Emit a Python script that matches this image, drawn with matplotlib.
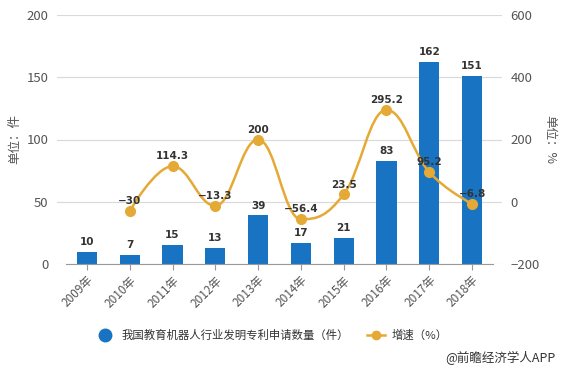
import numpy as np
import matplotlib
matplotlib.use("Agg")
import matplotlib.pyplot as plt
from matplotlib.path import Path
from matplotlib.patches import PathPatch
from matplotlib.lines import Line2D

plt.rcParams['font.family'] = ['Noto Sans CJK SC', 'DejaVu Sans']

years = ['2009年', '2010年', '2011年', '2012年', '2013年', '2014年', '2015年', '2016年', '2017年', '2018年']
counts = [10, 7, 15, 13, 39, 17, 21, 83, 162, 151]
growth_years = years[1:]
growth = [-30, 114.3, -13.3, 200, -56.4, 23.5, 295.2, 95.2, -6.8]
growth_labels = ['−30', '114.3', '−13.3', '200', '−56.4', '23.5', '295.2', '95.2', '−6.8']

bar_color = '#1874c3'
line_color = '#e5a935'

fig = plt.figure(figsize=(5.61, 3.69), dpi=100)
ax = fig.add_axes([57/561, 1-264/369, 445/561, 249/369])
ax2 = ax.twinx()

x = np.arange(len(years))
ax.bar(x, counts, width=0.47, color=bar_color, zorder=2)
for xi, v in zip(x, counts):
    ax.annotate(str(v), (xi, v), xytext=(0, 3.5), textcoords='offset points',
                ha='center', va='bottom', fontsize=7.5, fontweight='bold', color='#333333',
                family='DejaVu Sans')

ax.set_ylim(0, 200)
ax.set_yticks([0, 50, 100, 150, 200])
ax.set_xlim(-0.7, 9.7)
ax.grid(axis='y', color='#d9d9d9', linewidth=0.8, zorder=0)
ax.set_axisbelow(True)
for s in ['top', 'right', 'left']:
    ax.spines[s].set_visible(False)
ax.spines['bottom'].set_color('#999999')
ax.spines['bottom'].set_bounds(-0.5, 9.5)
ax.set_xticks(x)
ax.set_xticklabels(years, rotation=45, ha='right', rotation_mode='anchor', fontsize=8.5, color='#555555')
ax.tick_params(axis='x', length=4, color='#999999', pad=3)
ax.tick_params(axis='y', length=0, labelsize=9.5, labelcolor='#555555', pad=6)
ax.set_ylabel('单位：件', fontsize=9, color='#555555', labelpad=4)

# growth line on secondary axis: Highcharts-style spline through data points
gx = np.arange(1, len(years)).astype(float)
gy = np.array(growth, dtype=float)
n = len(gx)
sm = 1.5
den = sm + 1
lc = [(gx[i], gy[i]) for i in range(n)]
rc = [(gx[i], gy[i]) for i in range(n)]
for i in range(1, n - 1):
    px, py = gx[i], gy[i]
    lx, ly = gx[i-1], gy[i-1]
    nx, ny = gx[i+1], gy[i+1]
    lcx = (sm * px + lx) / den
    lcy = (sm * py + ly) / den
    rcx = (sm * px + nx) / den
    rcy = (sm * py + ny) / den
    corr = ((rcy - lcy) * (rcx - px)) / (rcx - lcx) + py - rcy
    lcy += corr
    rcy += corr
    if lcy > ly and lcy > py:
        lcy = max(ly, py); rcy = 2 * py - lcy
    elif lcy < ly and lcy < py:
        lcy = min(ly, py); rcy = 2 * py - lcy
    if rcy > ny and rcy > py:
        rcy = max(ny, py); lcy = 2 * py - rcy
    elif rcy < ny and rcy < py:
        rcy = min(ny, py); lcy = 2 * py - rcy
    lc[i] = (lcx, lcy)
    rc[i] = (rcx, rcy)
verts = [(gx[0], gy[0])]
codes = [Path.MOVETO]
for i in range(n - 1):
    verts += [rc[i], lc[i+1], (gx[i+1], gy[i+1])]
    codes += [Path.CURVE4] * 3
patch = PathPatch(Path(verts, codes), facecolor='none', edgecolor=line_color, linewidth=1.8, zorder=3)
ax2.add_patch(patch)
ax2.plot(gx, gy, linestyle='none', marker='o', markersize=7, color=line_color, zorder=4)
for xi, v, lab in zip(gx, gy, growth_labels):
    ax2.annotate(lab, (xi, v), xytext=(0, 3.5), textcoords='offset points',
                 ha='center', va='bottom', fontsize=7.5, fontweight='bold', color='#333333',
                 family='DejaVu Sans')

ax2.set_ylim(-200, 600)
ax2.set_yticks([-200, 0, 200, 400, 600])
for s in ['top', 'right', 'left', 'bottom']:
    ax2.spines[s].set_visible(False)
ax2.tick_params(axis='y', length=0, labelsize=9.5, labelcolor='#555555', pad=6)
ax2.set_ylabel('单位：%', fontsize=9, color='#555555', rotation=-90, labelpad=12)

# legend
h1 = Line2D([], [], linestyle='none', marker='o', markersize=9, color=bar_color)
h2 = Line2D([], [], linestyle='-', marker='o', markersize=6, color=line_color, linewidth=1.8)
fig.legend([h1, h2], ['我国教育机器人行业发明专利申请数量（件）', '增速（%）'],
           loc='center', bbox_to_anchor=(0.485, 1-335/369), ncol=2, frameon=False,
           fontsize=8.2, labelcolor='#333333', handlelength=1.6, columnspacing=1.6, handletextpad=0.6)

fig.text(0.99, 1-358/369, '@前瞻经济学人APP', ha='right', va='center', fontsize=9, color='#333333')

fig.savefig('out.png', dpi=100)
